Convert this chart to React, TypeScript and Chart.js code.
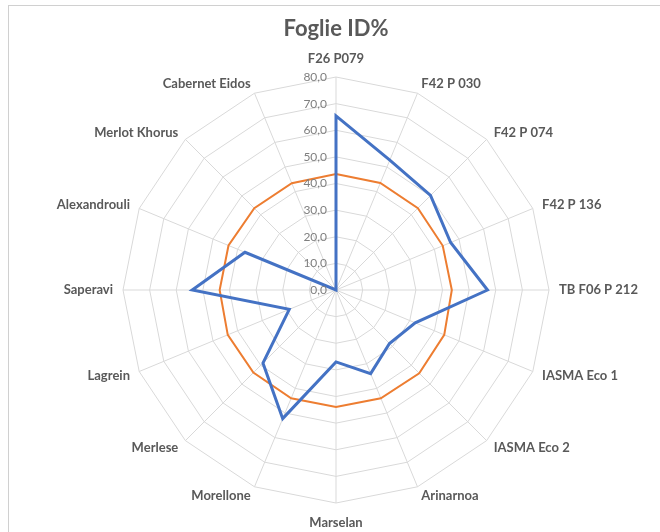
import React, { useEffect, useRef } from "react";
import { Chart, registerables } from "chart.js";

Chart.register(...registerables);

const CATEGORIES: string[] = [
  "F26 P079",
  "F42 P 030",
  "F42 P 074",
  "F42 P 136",
  "TB F06 P 212",
  "IASMA Eco 1",
  "IASMA Eco 2",
  "Arinarnoa",
  "Marselan",
  "Morellone",
  "Merlese",
  "Lagrein",
  "Saperavi",
  "Alexandrouli",
  "Merlot Khorus",
  "Cabernet Eidos",
];

const SERIES_ID: number[] = [65.4, 52.8, 50.2, 46.6, 56.9, 32.2, 28.4, 34.0, 27.0, 52.3, 38.8, 19.0, 54.0, 37.0, 0, 0];
const SERIES_MEAN: number[] = [43.6, 43.5, 43.5, 43.4, 43.5, 44.0, 44.2, 44.0, 43.9, 44.0, 43.9, 44.0, 43.7, 43.7, 43.4, 43.4];

const TICK_LABELS: string[] = ["0,0", "10,0", "20,0", "30,0", "40,0", "50,0", "60,0", "70,0", "80,0"];

const TITLE = "Foglie ID%";
const FONT = "Lato, 'Open Sans', sans-serif";

const labelPlugin = {
  id: "excelLabels",
  afterDraw(chart: any) {
    const scale = chart.scales.r;
    const ctx = chart.ctx;
    ctx.save();
    // tick labels, right aligned left of vertical axis
    ctx.font = `12px ${FONT}`;
    ctx.fillStyle = "#7f7f7f";
    ctx.textAlign = "right";
    ctx.textBaseline = "middle";
    scale.ticks.forEach((t: any) => {
      const d = scale.getDistanceFromCenterForValue(t.value);
      ctx.fillText(t.label, scale.xCenter - 9, scale.yCenter - d);
    });
    // point labels
    ctx.font = `bold 13px ${FONT}`;
    ctx.fillStyle = "#595959";
    const n = chart.data.labels.length;
    for (let i = 0; i < n; i++) {
      const deg = (360 * i) / n;
      let align = "center";
      let base = "middle";
      let pad = 10;
      if (deg === 0) {
        base = "bottom";
        pad = 12;
      } else if (deg === 180) {
        base = "top";
        pad = 13;
      } else if (deg < 180) align = "left";
      else align = "right";
      const p = scale.getPointPosition(i, scale.drawingArea + pad);
      ctx.textAlign = align;
      ctx.textBaseline = base;
      ctx.fillText(chart.data.labels[i], p.x, p.y);
    }
    ctx.restore();
  },
};

export default function App() {
  const ref = useRef<HTMLCanvasElement>(null);
  useEffect(() => {
    if (!ref.current) return;
    const chart = new Chart(ref.current, {
      type: "radar",
      data: {
        labels: CATEGORIES,
        datasets: [
          {
            label: "ID%",
            data: SERIES_ID,
            borderColor: "#4472C4",
            backgroundColor: "#4472C4",
            borderWidth: 3,
            pointRadius: 0,
            fill: false,
            tension: 0,
          },
          {
            label: "Media",
            data: SERIES_MEAN,
            borderColor: "#ED7D31",
            backgroundColor: "#ED7D31",
            borderWidth: 2,
            pointRadius: 0,
            fill: false,
            tension: 0,
          },
        ],
      },
      options: {
        responsive: false,
        animation: false,
        layout: { padding: { left: 122, right: 110, top: 0, bottom: 28 } },
        plugins: {
          legend: { display: false },
          tooltip: { enabled: false },
          title: {
            display: true,
            text: TITLE,
            color: "#595959",
            font: { family: FONT, size: 22, weight: "bold" },
            padding: { top: 16, bottom: 34 },
          },
        },
        scales: {
          r: {
            min: 0,
            max: 80,
            ticks: {
              stepSize: 10,
              display: false,
              callback: (_v: any, i: number) => TICK_LABELS[i],
            },
            pointLabels: { display: false },
            grid: { color: "#d9d9d9", lineWidth: 1 },
            angleLines: { color: "#d9d9d9", lineWidth: 1 },
          },
        },
      },
      plugins: [labelPlugin],
    } as any);
    return () => chart.destroy();
  }, []);

  return (
    <div style={{ position: "fixed", left: 0, top: 0, width: 660, height: 532, overflow: "hidden", background: "#fff" }}>
      <div
        style={{
          position: "absolute",
          left: 8,
          top: 5,
          width: 720,
          height: 600,
          border: "1px solid #d0d0d0",
          boxSizing: "border-box",
        }}
      />
      <canvas ref={ref} width={660} height={532} style={{ position: "absolute", left: 0, top: 0 }} />
    </div>
  );
}
